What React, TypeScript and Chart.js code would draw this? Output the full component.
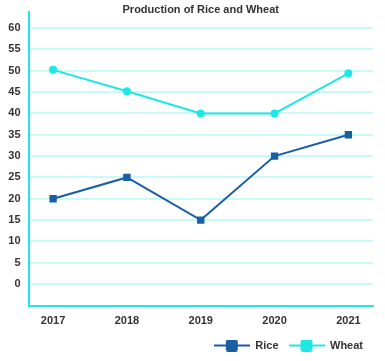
import React, { useEffect, useRef } from "react";
import { Chart, registerables } from "chart.js";

Chart.register(...registerables);

const categories = ["2017", "2018", "2019", "2020", "2021"];
const riceValues = [20, 25, 15, 30, 35];
const wheatValues = [50.2, 45.2, 40, 40, 49.4];
const yTickMin = -5;
const yTickMax = 63.75;

const RICE_COLOR = "#1a5fa3";
const WHEAT_COLOR = "#1ee8e6";
const GRID_COLOR = "#c9f9f9";
const AXIS_COLOR = "#1ee8e8";
const TEXT_COLOR = "#333333";
const FONT = "'Liberation Sans', Arial, Helvetica, sans-serif";

function legendIcon(color: string): HTMLCanvasElement {
  const c = document.createElement("canvas");
  c.width = 36;
  c.height = 12;
  const g = c.getContext("2d")!;
  g.strokeStyle = color;
  g.lineWidth = 2;
  g.beginPath();
  g.moveTo(0, 6);
  g.lineTo(36, 6);
  g.stroke();
  g.fillStyle = color;
  g.beginPath();
  const x = 12, y = 0, w = 12, h = 12, r = 2;
  g.moveTo(x + r, y);
  g.lineTo(x + w - r, y);
  g.quadraticCurveTo(x + w, y, x + w, y + r);
  g.lineTo(x + w, y + h - r);
  g.quadraticCurveTo(x + w, y + h, x + w - r, y + h);
  g.lineTo(x + r, y + h);
  g.quadraticCurveTo(x, y + h, x, y + h - r);
  g.lineTo(x, y + r);
  g.quadraticCurveTo(x, y, x + r, y);
  g.fill();
  return c;
}

export default function App() {
  const ref = useRef<HTMLCanvasElement | null>(null);

  useEffect(() => {
    if (!ref.current) return;
    const years = categories.map(Number);
    const riceIcon = legendIcon(RICE_COLOR);
    const wheatIcon = legendIcon(WHEAT_COLOR);
    const chart = new Chart(ref.current, {
      type: "line",
      data: {
        datasets: [
          {
            label: "Rice",
            data: years.map((x, i) => ({ x, y: riceValues[i] })),
            borderColor: RICE_COLOR,
            backgroundColor: RICE_COLOR,
            borderWidth: 2,
            pointStyle: "rect",
            pointRadius: 5.2,
            pointBorderWidth: 0,
            tension: 0,
          },
          {
            label: "Wheat",
            data: years.map((x, i) => ({ x, y: wheatValues[i] })),
            borderColor: WHEAT_COLOR,
            backgroundColor: WHEAT_COLOR,
            borderWidth: 2,
            pointStyle: "circle",
            pointRadius: 4,
            pointBorderWidth: 0,
            tension: 0,
          },
        ],
      },
      options: {
        responsive: false,
        animation: false,
        layout: { padding: { left: 0, right: 12, top: 0, bottom: 0 } },
        plugins: {
          title: {
            display: true,
            fullSize: false,
            text: "Production of Rice and Wheat",
            color: TEXT_COLOR,
            font: { family: FONT, size: 11, weight: "bold", lineHeight: 1 },
            padding: { top: 4, bottom: -3 },
          },
          legend: {
            position: "bottom",
            align: "end",
            labels: {
              color: TEXT_COLOR,
              font: { family: FONT, size: 11, weight: "bold" },
              usePointStyle: true,
              pointStyleWidth: 36,
              boxHeight: 12,
              padding: 10,
              generateLabels: (ch: any) =>
                ch.data.datasets.map((ds: any, i: number) => ({
                  text: ds.label,
                  pointStyle: i === 0 ? riceIcon : wheatIcon,
                  fillStyle: ds.borderColor,
                  strokeStyle: ds.borderColor,
                  lineWidth: 0,
                  fontColor: TEXT_COLOR,
                  hidden: false,
                  datasetIndex: i,
                })),
            },
          },
          tooltip: { enabled: false },
        },
        scales: {
          x: {
            type: "linear",
            min: years[0] - 1 / 3,
            max: years[years.length - 1] + 1 / 3,
            grid: { display: false, drawTicks: false },
            border: { display: true, color: AXIS_COLOR, width: 2 },
            afterFit: (s: any) => {
              s.height = 24.5;
              s.paddingLeft = 0;
              s.paddingRight = 0;
            },
            ticks: {
              stepSize: 1,
              includeBounds: false,
              padding: 9,
              color: TEXT_COLOR,
              font: { family: FONT, size: 11, weight: "bold" },
              callback: (v: any) => {
                const s = categories.find((c) => Number(c) === Number(v));
                return s ?? "";
              },
            },
          },
          y: {
            type: "linear",
            min: yTickMin,
            max: yTickMax,
            afterFit: (s: any) => {
              s.width = 28.5;
              s.paddingTop = 0;
              s.paddingBottom = 0;
            },
            grid: {
              color: (ctx: any) =>
                ctx.tick && ctx.tick.value < 0 ? "rgba(0,0,0,0)" : GRID_COLOR,
              lineWidth: 2,
              drawTicks: false,
            },
            border: { display: true, color: AXIS_COLOR, width: 2 },
            ticks: {
              stepSize: 5,
              includeBounds: false,
              padding: 8,
              color: TEXT_COLOR,
              font: { family: FONT, size: 11, weight: "bold" },
              callback: (v: any) => (Number(v) < 0 ? "" : String(v)),
            },
          },
        },
      },
    } as any);
    return () => chart.destroy();
  }, []);

  return (
    <div style={{ position: "fixed", left: 0, top: 0, width: 385, height: 361, background: "#fff" }}>
      <canvas ref={ref} width={385} height={361} style={{ display: "block" }} />
    </div>
  );
}
